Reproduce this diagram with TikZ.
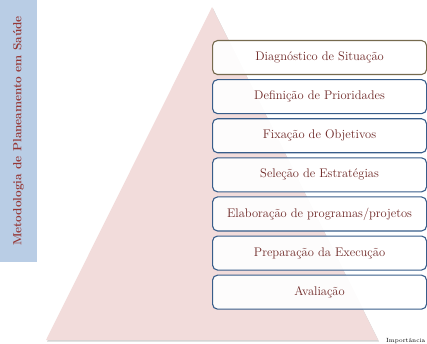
\documentclass[tikz,border=0pt]{standalone}
\usepackage{xcolor}
\usepackage{tikz}
\usetikzlibrary{positioning, shadows}
\definecolor{barblue}{RGB}{185,205,229}
\definecolor{titlered}{RGB}{149,55,53}
\definecolor{pyrpink}{RGB}{242,220,219}
\definecolor{boxblue}{RGB}{56,93,138}
\definecolor{boxolive}{RGB}{118,106,78}
\definecolor{steptext}{RGB}{110,40,38}

\begin{document}
\begin{tikzpicture}[x=1pt, y=-1pt,
  stage/.style={rectangle, rounded corners=5pt, draw=boxblue, line width=1.1pt,
                fill=white, fill opacity=0.92, text opacity=1, text=steptext,
                minimum width=214pt, minimum height=34pt, inner sep=0pt,
                font=\fontsize{12.5}{14}\selectfont},
  titlebar/.style={rectangle, fill=barblue, rotate=90, minimum width=262pt,
                   minimum height=37pt, inner sep=0pt, text=titlered,
                   font=\fontsize{11.8}{13}\selectfont\bfseries}
]
\useasboundingbox (0,0) rectangle (427,344);
\clip (0,0) rectangle (427,344);

% side title
\node[titlebar] (title) at (18.5,131) {Metodologia de Planeamento em Sa\'ude};

% pyramid
\node[coordinate] (apex) at (212,7) {};
\node[coordinate] (baseL) at (46,340) {};
\node[coordinate] (baseR) at (378,340) {};
\fill[pyrpink, drop shadow={shadow xshift=1pt, shadow yshift=-1.5pt, fill=black!35}]
  (apex) -- (baseR) -- (baseL) -- cycle;

% steps
\node[stage, draw=boxolive, anchor=north west] (diag) at (212,40) {Diagn\'ostico de Situa\c{c}\~ao};
\node[stage, below=4pt of diag] (defin) {Defini\c{c}\~ao de Prioridades};
\node[stage, below=4pt of defin] (fix) {Fixa\c{c}\~ao de Objetivos};
\node[stage, below=4pt of fix] (selec) {Sele\c{c}\~ao de Estrat\'egias};
\node[stage, below=4pt of selec] (elab) {Elabora\c{c}\~ao de programas/projetos};
\node[stage, below=4pt of elab] (prep) {Prepara\c{c}\~ao da Execu\c{c}\~ao};
\node[stage, below=4pt of prep] (aval) {Avalia\c{c}\~ao};

% small note
\node[anchor=base west, inner sep=0pt, font=\fontsize{6}{7}\selectfont] (note) at (386,342.5) {Import\^ancia};
\end{tikzpicture}
\end{document}
